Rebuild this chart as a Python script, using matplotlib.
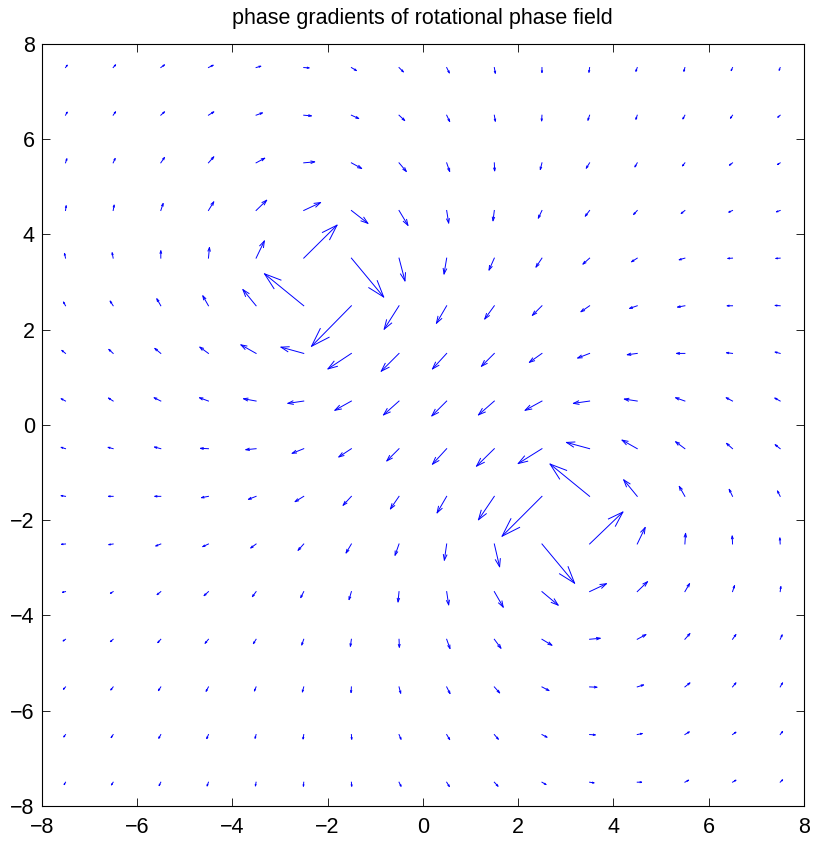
import numpy as np
import matplotlib.pyplot as plt

# grid of the phase field (columns left->right, rows top->bottom)
x_grid = np.arange(-7.5, 8, 1.0)
y_grid = np.arange(7.5, -8, -1.0)

# phase gradient components (arbitrary units)
U = np.array([
    [5, 7, 11, 14, 14, 16, 15, 13, 8, 3, 0, -2, -4, -3, -4, -3],
    [5, 7, 11, 16, 19, 23, 22, 17, 9, 3, -1, -5, -4, -6, -6, -7],
    [4, 6, 11, 16, 26, 33, 31, 22, 9, 1, -5, -10, -7, -7, -9, -8],
    [2, 3, 7, 16, 32, 51, 50, 27, 6, -4, -11, -13, -11, -11, -11, -11],
    [-3, -3, 0, 3, 25, 101, 98, 18, -8, -16, -18, -20, -17, -17, -14, -13],
    [-6, -9, -12, -17, -40, -119, -121, -45, -31, -29, -29, -26, -23, -22, -16, -15],
    [-11, -13, -18, -26, -46, -69, -71, -54, -43, -39, -38, -36, -30, -25, -18, -15],
    [-13, -14, -20, -27, -38, -48, -50, -47, -45, -48, -51, -49, -39, -28, -19, -16],
    [-13, -15, -19, -24, -31, -35, -38, -37, -43, -54, -72, -70, -46, -28, -18, -15],
    [-13, -14, -18, -21, -23, -26, -25, -26, -29, -48, -121, -120, -41, -17, -10, -8],
    [-12, -13, -15, -17, -16, -17, -16, -12, -7, 16, 99, 101, 24, 2, -1, -1],
    [-9, -8, -11, -13, -11, -9, -7, -3, 6, 27, 49, 51, 31, 14, 6, 2],
    [-7, -8, -9, -10, -8, -6, -3, 1, 10, 20, 30, 32, 26, 15, 10, 6],
    [-6, -7, -7, -7, -5, -4, -1, 5, 10, 16, 21, 22, 19, 15, 10, 7],
    [-5, -6, -6, -5, -3, -2, 1, 6, 9, 12, 15, 17, 15, 13, 10, 7],
    [-4, -5, -5, -4, -2, -1, 1, 6, 8, 11, 12, 13, 13, 11, 10, 7],
], dtype=float)

V = np.array([
    [7, 8, 8, 7, 4, -1, -9, -13, -16, -17, -15, -14, -11, -11, -9, -8],
    [9, 10, 10, 10, 7, -2, -10, -16, -19, -18, -17, -15, -12, -11, -9, -6],
    [12, 13, 16, 18, 14, 3, -17, -26, -26, -24, -20, -16, -12, -9, -7, -5],
    [14, 16, 21, 26, 31, 24, -39, -45, -38, -31, -23, -17, -12, -9, -5, -4],
    [14, 16, 22, 32, 52, 100, -118, -69, -48, -36, -27, -18, -11, -5, -1, -1],
    [11, 14, 21, 30, 49, 97, -123, -71, -53, -40, -29, -18, -8, -4, 0, 1],
    [9, 12, 15, 19, 26, 19, -47, -54, -47, -39, -27, -14, -4, 0, 2, 4],
    [7, 9, 10, 10, 7, -7, -28, -42, -45, -42, -28, -7, 6, 10, 10, 9],
    [4, 4, 5, 1, -3, -14, -25, -37, -47, -53, -45, 19, 26, 21, 16, 12],
    [2, 0, 0, -4, -9, -16, -27, -38, -50, -71, -121, 98, 50, 30, 21, 16],
    [-1, -2, -6, -8, -12, -19, -27, -34, -49, -69, -119, 97, 50, 32, 24, 18],
    [-2, -5, -9, -12, -15, -18, -24, -31, -40, -47, -41, 24, 30, 24, 18, 15],
    [-5, -7, -10, -12, -13, -17, -21, -24, -28, -27, -18, 3, 14, 17, 14, 13],
    [-7, -9, -11, -13, -12, -15, -17, -19, -20, -18, -11, -1, 6, 12, 12, 12],
    [-7, -9, -11, -12, -11, -13, -14, -14, -15, -14, -8, -1, 3, 8, 7, 9],
    [-7, -8, -10, -11, -11, -12, -12, -12, -13, -12, -7, -2, 0, 6, 6, 7],
], dtype=float)

X, Y = np.meshgrid(x_grid, y_grid)

# matlab style autoscale of quiver
n, m = X.shape
delx = (X.max() - X.min()) / m
dely = (Y.max() - Y.min()) / n
dl = delx**2 + dely**2
maxlen = np.sqrt((U**2 + V**2) / dl).max()
s = 0.9 / maxlen
u = U * s
v = V * s

x = X.ravel(); y = Y.ravel(); u = u.ravel(); v = v.ravel()
nan = np.full_like(x, np.nan)

# shafts
sx = np.column_stack([x, x + u, nan]).ravel()
sy = np.column_stack([y, y + v, nan]).ravel()

# open arrow heads like matlab
alpha, beta = 0.33, 0.33
eps = 1e-12
hx = np.column_stack([x + u - alpha * (u + beta * (v + eps)), x + u,
                      x + u - alpha * (u - beta * (v + eps)), nan]).ravel()
hy = np.column_stack([y + v - alpha * (v - beta * (u + eps)), y + v,
                      y + v - alpha * (v + beta * (u + eps)), nan]).ravel()

plt.rcParams['font.family'] = ['Liberation Sans', 'DejaVu Sans']

fig = plt.figure(figsize=(8.16, 8.41), dpi=100)
ax = fig.add_axes([0.0511, 0.0416, 0.9342, 0.9064])
ax.plot(sx, sy, color=(0, 0, 1), lw=0.7)
ax.plot(hx, hy, color=(0, 0, 1), lw=0.7)

ax.set_xlim(-8, 8)
ax.set_ylim(-8, 8)
ax.set_xticks(np.arange(-8, 9, 2))
ax.set_yticks(np.arange(-8, 9, 2))
ax.tick_params(direction='in', top=True, right=True, length=5.5, width=0.6,
               labelsize=15.5, pad=5)
ax.tick_params(axis='x', pad=8)
for sp in ax.spines.values():
    sp.set_linewidth(0.8)
ax.set_title('phase gradients of rotational phase field', fontsize=15.5, pad=14)

fig.savefig('out.png', dpi=100)
